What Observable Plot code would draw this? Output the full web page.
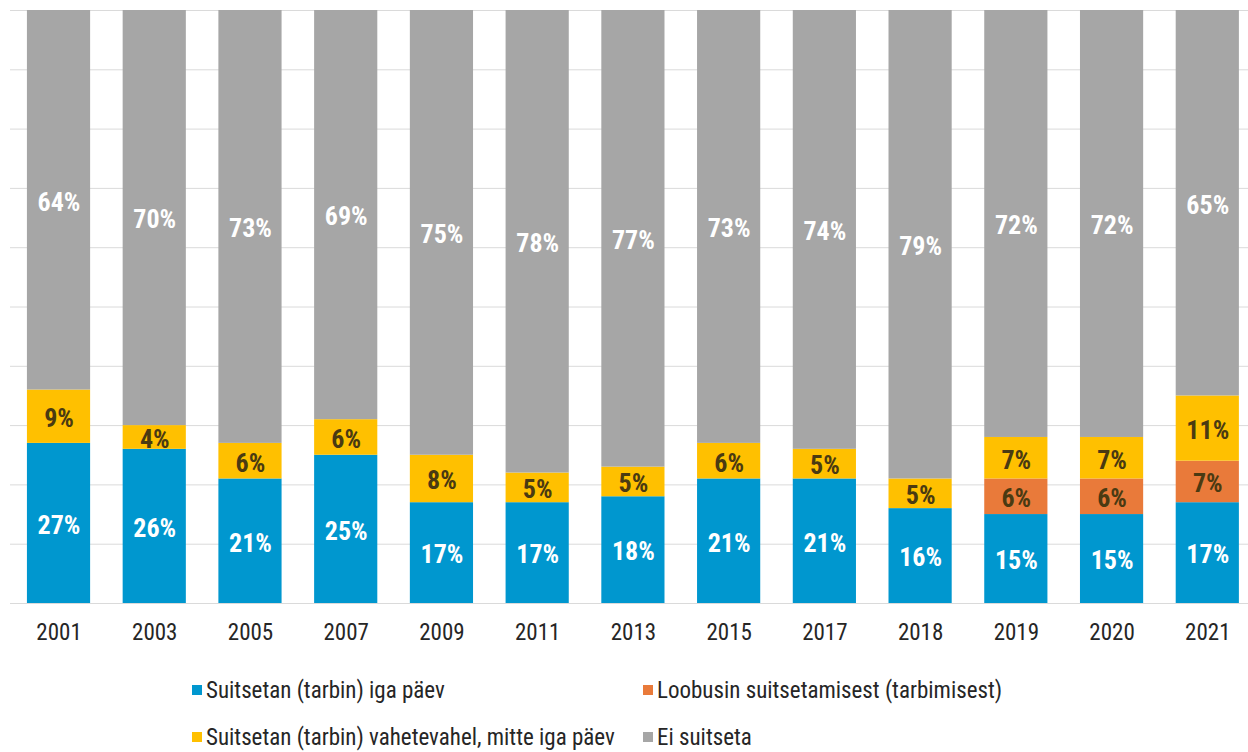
<!DOCTYPE html>
<html><head><meta charset="utf-8">
<script src="https://cdn.jsdelivr.net/npm/d3@7"></script>
<script src="https://cdn.jsdelivr.net/npm/@observablehq/plot@0.6"></script>
<style>
body{margin:0;background:#fff;}
#wrap{position:relative;width:1248px;height:752px;font-family:"Roboto Condensed","DejaVu Sans Condensed",Roboto,sans-serif;}
#legend{position:absolute;left:0;top:0;width:1248px;height:752px;pointer-events:none;}
.li{position:absolute;display:flex;align-items:center;font-size:23px;color:#262626;white-space:nowrap;}
.sw{width:10px;height:10px;margin-right:4px;}
</style></head><body>
<div id="wrap"><div id="chart"></div><div id="legend"></div></div>
<script>
const years = ["2001","2003","2005","2007","2009","2011","2013","2015","2017","2018","2019","2020","2021"];
const daily = [27,26,21,25,17,17,18,21,21,16,15,15,17];
const quit = [null,null,null,null,null,null,null,null,null,null,6,6,7];
const occasional = [9,4,6,6,8,5,5,6,5,5,7,7,11];
const nonSmokers = [64,70,73,69,75,78,77,73,74,79,72,72,65];
const seriesNames = ["Suitsetan (tarbin) iga päev","Loobusin suitsetamisest (tarbimisest)","Suitsetan (tarbin) vahetevahel, mitte iga päev","Ei suitseta"];
const seriesColors = ["#0097cf","#e97a3a","#ffc000","#a6a6a6"];
const gridTicks = [0,10,20,30,40,50,60,70,80,90,100];

const seriesValues = [daily, quit, occasional, nonSmokers];
const data = [];
years.forEach((yr, i) => {
  seriesValues.forEach((vals, s) => {
    if (vals[i] != null) data.push({year: yr, series: seriesNames[s], value: vals[i]});
  });
});
const darkLabel = new Set([seriesNames[1], seriesNames[2]]);
const FONT = '"Roboto Condensed","DejaVu Sans Condensed",Roboto,sans-serif';

const chart = Plot.plot({
  width: 1248,
  height: 650,
  marginLeft: 10,
  marginRight: 0,
  marginTop: 10,
  marginBottom: 47,
  style: {fontFamily: FONT, background: "#fff"},
  x: {domain: years, paddingInner: 0.34, paddingOuter: 0.136, align: 0.65, round: false, label: null},
  y: {domain: [0, 100], axis: null},
  color: {domain: seriesNames, range: seriesColors},
  marks: [
    Plot.ruleY(gridTicks, {stroke: "#dadada", strokeWidth: 1}),
    Plot.barY(data, {x: "year", y: "value", fill: "series", order: seriesNames}),
    Plot.text(data, Plot.stackY({x: "year", y: "value", z: "series", order: seriesNames,
      text: d => darkLabel.has(d.series) ? "" : d.value + "%",
      fill: "#ffffff", fontSize: 26, fontWeight: "bold", dy: 2})),
    Plot.text(data, Plot.stackY({x: "year", y: "value", z: "series", order: seriesNames,
      text: d => darkLabel.has(d.series) ? d.value + "%" : "",
      fill: "#4a3a12", fontSize: 26, fontWeight: "bold", dy: 2})),
    Plot.axisX({tickSize: 0, tickPadding: 20, fontSize: 23, color: "#262626", label: null})
  ]
});
document.getElementById("chart").appendChild(chart);

const legendPos = [[192, 690], [643, 690], [192, 737], [643, 737]];
const legend = document.getElementById("legend");
seriesNames.forEach((name, i) => {
  const el = document.createElement("div");
  el.className = "li";
  el.style.left = legendPos[i][0] + "px";
  el.style.top = (legendPos[i][1] - 14) + "px";
  el.style.height = "28px";
  const sw = document.createElement("span");
  sw.className = "sw";
  sw.style.background = seriesColors[i];
  el.appendChild(sw);
  el.appendChild(document.createTextNode(name));
  legend.appendChild(el);
});
</script>
</body></html>
